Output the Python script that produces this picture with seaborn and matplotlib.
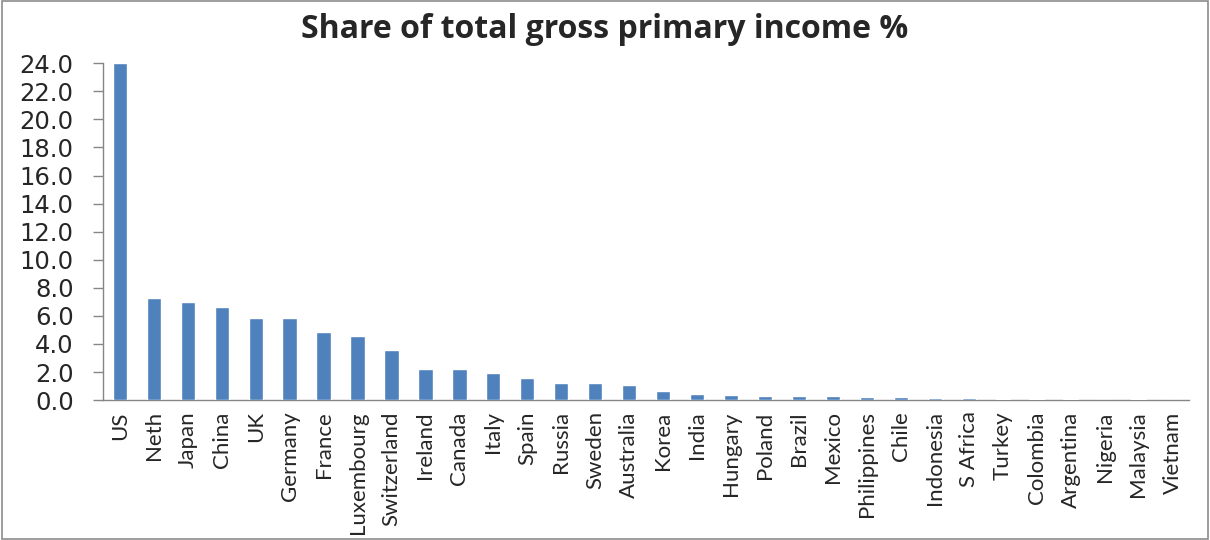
import matplotlib
matplotlib.use("Agg")
import matplotlib.pyplot as plt
import seaborn as sns
import pandas as pd
import numpy as np

countries = ["US", "Neth", "Japan", "China", "UK", "Germany", "France", "Luxembourg",
             "Switzerland", "Ireland", "Canada", "Italy", "Spain", "Russia", "Sweden",
             "Australia", "Korea", "India", "Hungary", "Poland", "Brazil", "Mexico",
             "Philippines", "Chile", "Indonesia", "S Africa", "Turkey", "Colombia",
             "Argentina", "Nigeria", "Malaysia", "Vietnam"]
shares = [24.0, 7.3, 7.0, 6.65, 5.85, 5.85, 4.85, 4.55,
          3.6, 2.25, 2.25, 1.9, 1.55, 1.2, 1.2,
          1.05, 0.62, 0.47, 0.36, 0.28, 0.28, 0.28,
          0.24, 0.19, 0.14, 0.12, 0.1, 0.1,
          0.07, 0.01, 0.05, 0.0]
yticks = np.arange(0, 24.1, 2.0)

df = pd.DataFrame({"country": countries, "share": shares})

sns.set_style("white")
fig = plt.figure(figsize=(12.1, 5.4), dpi=100)
ax = fig.add_axes([0.085, 0.259, 0.898, 0.624])
sns.barplot(data=df, x="country", y="share", color="#4F81BD", saturation=1,
            width=0.42, ax=ax, zorder=3)

ax.set_ylim(0, 24)
ax.set_xlim(-0.5, len(countries) - 0.5)
ax.set_yticks(yticks)
ax.set_yticklabels([f"{v:.1f}" for v in yticks], fontsize=17.5, family="DejaVu Sans")
ax.set_xticks(range(len(countries)))
ax.set_xticklabels(countries, rotation=90, fontsize=16, family="Lato")
ax.tick_params(axis="x", which="major", length=0, pad=8)
ax.set_xticks(np.arange(-0.5, len(countries), 1.0), minor=True)
ax.tick_params(axis="x", which="minor", length=5, color="#868686", width=1)
ax.tick_params(axis="y", which="major", left=True, length=7, color="#868686", width=1, pad=14)
ax.set_xlabel("")
ax.set_ylabel("")
for s in ["top", "right"]:
    ax.spines[s].set_visible(False)
for s in ["left", "bottom"]:
    ax.spines[s].set_color("#868686")
    ax.spines[s].set_linewidth(1)
    ax.spines[s].set_zorder(2)

fig.text(0.5, 0.945, "Share of total gross primary income %", ha="center", va="center",
         fontsize=23, fontweight="bold", family="Open Sans")

border = plt.Rectangle((0.002, 0.002), 0.996, 0.996, transform=fig.transFigure,
                       fill=False, edgecolor="#8c8c8c", linewidth=1.2)
fig.patches.append(border)

fig.savefig("out.png", dpi=100)
